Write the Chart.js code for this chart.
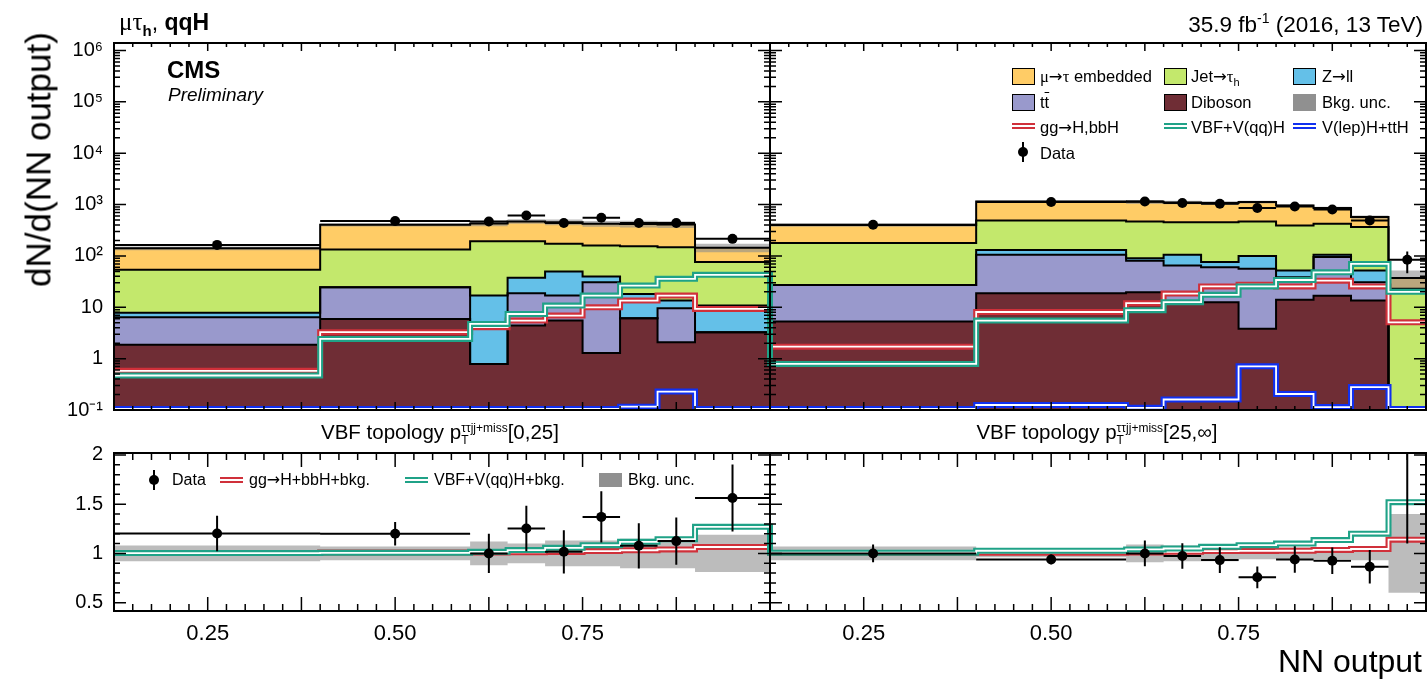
<!DOCTYPE html>
<html>
<head>
<meta charset="utf-8">
<script src="https://cdn.jsdelivr.net/npm/chart.js@4.4.1/dist/chart.umd.min.js"></script>
<style>
  body { margin: 0; width: 1428px; height: 683px; overflow: hidden; position: relative; background: #fff;
         font-family: "Liberation Sans", Arial, sans-serif; color: #000; }
  canvas { position: absolute; left: 0; }
  .t { position: absolute; white-space: nowrap; line-height: 1; }
  .g { font-family: "Liberation Serif", "DejaVu Serif", serif; }
  .ar { font-family: "DejaVu Sans", sans-serif; }
  .box { position: absolute; width: 23px; height: 17px; border: 1.5px solid #000; box-sizing: border-box; }
  .dl { position: absolute; width: 23px; height: 6px; }
  .dl::after { content: ''; position: absolute; left: 0; right: 0; top: 2px; height: 2px; background: #fff; }
  .dot { position: absolute; width: 10px; height: 10px; border-radius: 50%; background: #000; }
  .bar { position: absolute; width: 2px; background: #000; }
  .ss { display: inline-block; vertical-align: -5px; font-size: 12px; line-height: 12px; text-align: left; }
  .ss span { display: block; }
</style>
</head>
<body>
<canvas id="upper" width="1428" height="425" style="top:0"></canvas>
<canvas id="ratio" width="1428" height="243" style="top:440px"></canvas>

<div class="t" style="left:119px;top:9px;font-size:23px"><span class="g" style="font-size:25px">&mu;&tau;</span><sub style="font-size:15px;font-weight:bold">h</sub>, <b>qqH</b></div>
<div class="t" style="right:5px;top:11px;font-size:22.5px">35.9 fb<sup style="font-size:14px">-1</sup> (2016, 13 TeV)</div>
<div class="t" style="left:167px;top:58px;font-size:24px;font-weight:bold">CMS</div>
<div class="t" style="left:168px;top:85px;font-size:19px;font-style:italic">Preliminary</div>

<div class="t" style="left:-112px;top:142px;width:300px;text-align:center;font-size:35px;transform:rotate(-90deg)">dN/d(NN output)</div>
<div class="t" style="right:6px;top:645px;font-size:32px">NN output</div>

<div class="t" style="left:240px;top:422px;width:400px;text-align:center;font-size:20.5px">VBF topology p<span class="ss"><span>&tau;&tau;jj+miss</span><span>T</span></span>[0,25]</div>
<div class="t" style="left:897px;top:422px;width:400px;text-align:center;font-size:20.5px">VBF topology p<span class="ss"><span>&tau;&tau;jj+miss</span><span>T</span></span>[25,&infin;]</div>

<!-- legend, upper panel -->
<div class="box" style="left:1012px;top:68px;background:#ffcc66"></div>
<div class="t" style="left:1040px;top:68px;font-size:16.5px"><span class="g">&mu;</span><span class="ar">&rarr;</span><span class="g">&tau;</span> embedded</div>
<div class="box" style="left:1164px;top:68px;background:#c3e86c"></div>
<div class="t" style="left:1191px;top:68px;font-size:16.5px">Jet<span class="ar">&rarr;</span><span class="g">&tau;</span><sub style="font-size:11px">h</sub></div>
<div class="box" style="left:1293px;top:68px;background:#64c0e8"></div>
<div class="t" style="left:1322px;top:68px;font-size:16.5px">Z<span class="ar">&rarr;</span>ll</div>

<div class="box" style="left:1012px;top:94px;background:#9999cc"></div>
<div class="t" style="left:1040px;top:94px;font-size:16.5px">t<span style="text-decoration:overline">t</span></div>
<div class="box" style="left:1164px;top:94px;background:#6f2d35"></div>
<div class="t" style="left:1191px;top:94px;font-size:16.5px">Diboson</div>
<div class="box" style="left:1293px;top:94px;background:#909090;border:none"></div>
<div class="t" style="left:1322px;top:94px;font-size:16.5px">Bkg. unc.</div>

<div class="dl" style="left:1012px;top:123px;background:#d0303a"></div>
<div class="t" style="left:1040px;top:119px;font-size:16.5px">gg<span class="ar">&rarr;</span>H,bbH</div>
<div class="dl" style="left:1164px;top:123px;background:#1fa287"></div>
<div class="t" style="left:1191px;top:119px;font-size:16.5px">VBF+V(qq)H</div>
<div class="dl" style="left:1293px;top:123px;background:#1030f0"></div>
<div class="t" style="left:1322px;top:119px;font-size:16.5px">V(lep)H+ttH</div>

<div class="dot" style="left:1018px;top:147px"></div>
<div class="bar" style="left:1022px;top:142px;height:20px"></div>
<div class="t" style="left:1040px;top:145px;font-size:16.5px">Data</div>

<!-- legend, ratio panel -->
<div class="dot" style="left:149px;top:475px"></div>
<div class="bar" style="left:153px;top:470px;height:20px"></div>
<div class="t" style="left:172px;top:472px;font-size:16px">Data</div>
<div class="dl" style="left:220px;top:477px;background:#d0303a"></div>
<div class="t" style="left:249px;top:472px;font-size:16px">gg<span class="ar">&rarr;</span>H+bbH+bkg.</div>
<div class="dl" style="left:405px;top:477px;background:#1fa287"></div>
<div class="t" style="left:434px;top:472px;font-size:16px">VBF+V(qq)H+bkg.</div>
<div class="box" style="left:599px;top:473px;height:14px;background:#909090;border:none"></div>
<div class="t" style="left:628px;top:472px;font-size:16px">Bkg. unc.</div>

<script>
// NN output bin edges of the two VBF categories (pT^{ttjj+miss} [0,25] and [25,inf])
const edgesLow = [0.125, 0.4, 0.6, 0.65, 0.7, 0.75, 0.8, 0.85, 0.9, 1.0];
const edgesHigh = [0.125, 0.4, 0.6, 0.65, 0.7, 0.75, 0.8, 0.85, 0.9, 0.95, 1.0];
const panelShift = 0.875; // second category is unrolled right after the first

// stacked backgrounds: top edge of each layer, dN/d(NN output)  (9 bins + 10 bins)
const dibosonTop  = [1.87, 5.9, 0.79, 4.4, 5.5, 1.29, 6.1, 2.09, 3.27,   5.27, 18.8, 19.7, 12, 12.6, 3.8, 14, 16.7, 13.5, 0.05];
const ttTop       = [6.4, 24.6, 0.79, 18.8, 16.9, 30.8, 6.1, 9.6, 3.27,   27.3, 105, 81, 65, 60, 56, 38.6, 95, 30.8, 0.05];
const zllTop      = [7.8, 24.6, 16.9, 37.4, 49.6, 39.6, 18.2, 13.5, 10.8,  27.3, 131, 90, 105, 76, 100, 52, 105, 52, 0.05];
const jetFakeTop  = [53.6, 133, 194, 194, 172, 160, 155, 148, 76,    178, 490, 469, 455, 455, 469, 392, 423, 366, 22.9];
const embeddedTop = [141, 404, 430, 470, 455, 423, 420, 410, 145,    400, 1150, 1130, 1100, 1070, 1120, 960, 855, 570, 37];
const bkgRelUnc   = [0.08, 0.07, 0.12, 0.10, 0.13, 0.13, 0.15, 0.15, 0.19,  0.07, 0.04, 0.09, 0.08, 0.08, 0.06, 0.06, 0.06, 0.07, 0.40];

// signals (not stacked)
const ggHYield   = [0.58, 3.27, 4.1, 5.5, 6.9, 10, 13.5, 16.9, 9.3,   1.71, 8.1, 12, 18.5, 25.5, 27.5, 25.5, 33, 25.5, 5.1];
const qqHYield   = [0.47, 2.42, 4.75, 7.4, 10.8, 16.9, 26.5, 35.8, 42.8,  0.79, 5.5, 8.8, 12.6, 17.5, 25.5, 34, 48, 70, 20];
const otherHYield = [0.105, 0.105, 0.105, 0.105, 0.105, 0.105, 0.116, 0.228, 0.105,  0.105, 0.125, 0.11, 0.16, 0.16, 0.71, 0.205, 0.114, 0.28, 0.105];

// observed
const dataY   = [164, 477, 468, 614, 436, 553, 436, 436, 215,   404, 1119, 1148, 1070, 1037, 855, 918, 803, 490, 84];
const dataErr = [24, 34, 68, 80, 67, 75, 67, 67, 33,   27, 53, 107, 105, 103, 93, 96, 90, 70, 38];

// ratio panel
const ratioData    = [1.203, 1.2, 1.0, 1.253, 1.016, 1.371, 1.077, 1.125, 1.563,   1.0, 0.939, 1.0, 0.973, 0.932, 0.757, 0.939, 0.925, 0.865, 2.3];
const ratioDataErr = [0.18, 0.12, 0.2, 0.23, 0.22, 0.26, 0.23, 0.24, 0.34,   0.09, 0.05, 0.13, 0.13, 0.13, 0.11, 0.135, 0.135, 0.17, 1.2];
const ratioGGH = [1.004, 1.008, 1.01, 1.012, 1.015, 1.024, 1.032, 1.04, 1.065,   1.004, 1.007, 1.01, 1.017, 1.024, 1.025, 1.027, 1.035, 1.045, 1.14];
const ratioQQH = [1.003, 1.006, 1.016, 1.034, 1.057, 1.084, 1.118, 1.145, 1.27,   1.007, 1.027, 1.04, 1.05, 1.067, 1.084, 1.1, 1.135, 1.2, 1.52];

// axis labels
const yTickVals = [0.1, 1, 10, 100, 1000, 1e4, 1e5, 1e6];
const yTickText = ['10\u207B\u00B9', '1', '10', '10\u00B2', '10\u00B3', '10\u2074', '10\u2075', '10\u2076'];
const rTickVals = [0.5, 1, 1.5, 2];
const rTickText = ['0.5', '1', '1.5', '2'];
const xTickVals = [0.25, 0.5, 0.75, 0.25 + panelShift, 0.5 + panelShift, 0.75 + panelShift];
const xTickText = ['0.25', '0.50', '0.75', '0.25', '0.50', '0.75'];

const COL = { emb: '#ffcc66', jet: '#c3e86c', zll: '#64c0e8', tt: '#9999cc', dib: '#6f2d35',
              ggh: '#d0303a', qqh: '#1fa287', oth: '#1030f0', unc: 'rgba(140,140,140,0.6)' };

// unrolled bin boundaries
const binLo = [], binHi = [];
edgesLow.slice(0, -1).forEach((e, i) => { binLo.push(e); binHi.push(edgesLow[i + 1]); });
edgesHigh.slice(0, -1).forEach((e, i) => { binLo.push(e + panelShift); binHi.push(edgesHigh[i + 1] + panelShift); });
const binMid = binLo.map((lo, i) => (lo + binHi[i]) / 2);

function hist(vals) {
  const pts = vals.map((v, i) => ({ x: binLo[i], y: v }));
  pts.push({ x: binHi[binHi.length - 1], y: vals[vals.length - 1] });
  return pts;
}
function step(vals, color, width, order, extra) {
  return Object.assign({ data: hist(vals), stepped: true, borderColor: color, borderWidth: width,
    pointRadius: 0, fill: false, order, clip: 0 }, extra || {});
}
function dataSet(ys, errs, order) {
  return { data: ys.map((y, i) => ({ x: binMid[i], y })), showLine: false, pointRadius: 5,
    pointBackgroundColor: '#000', pointBorderWidth: 0, order, clip: 0,
    errY: errs, xLo: binLo, xHi: binHi };
}

// draws error bars under the markers of a dataset carrying errY
const errorBars = {
  id: 'errorBars',
  beforeDatasetDraw(chart, args) {
    const ds = chart.data.datasets[args.index];
    if (!ds.errY) return;
    const { ctx, chartArea: a, scales: { x, y } } = chart;
    ctx.save();
    ctx.beginPath();
    ctx.rect(a.left, a.top, a.right - a.left, a.bottom - a.top);
    ctx.clip();
    ctx.strokeStyle = '#000';
    ctx.lineWidth = 2;
    ctx.beginPath();
    ds.data.forEach((p, i) => {
      const px = x.getPixelForValue(p.x), py = y.getPixelForValue(p.y);
      ctx.moveTo(x.getPixelForValue(ds.xLo[i]), py);
      ctx.lineTo(x.getPixelForValue(ds.xHi[i]), py);
      ctx.moveTo(px, y.getPixelForValue(Math.max(p.y - ds.errY[i], 1e-3)));
      ctx.lineTo(px, y.getPixelForValue(p.y + ds.errY[i]));
    });
    ctx.stroke();
    ctx.restore();
  }
};

// ROOT style frame: box, category separator and inward tick marks
const frameTicks = {
  id: 'frameTicks',
  afterDatasetsDraw(chart, args, o) {
    const { ctx, chartArea: a, scales: { x, y } } = chart;
    const sep = x.getPixelForValue(1.0);
    ctx.save();
    ctx.strokeStyle = '#000';
    ctx.lineWidth = 1.5;
    ctx.beginPath();
    for (let k = 0; k <= 70; k++) {
      const px = x.getPixelForValue(0.125 + k * 0.025);
      const len = k % 5 === 0 ? o.xMajor : o.xMinor;
      ctx.moveTo(px, a.bottom); ctx.lineTo(px, a.bottom - len);
      ctx.moveTo(px, a.top); ctx.lineTo(px, a.top + len);
    }
    o.yTicks.forEach(([v, major]) => {
      const py = y.getPixelForValue(v);
      if (py < a.top - 0.5 || py > a.bottom + 0.5) return;
      const len = major ? o.yMajor : o.yMinor;
      ctx.moveTo(a.left, py); ctx.lineTo(a.left + len, py);
      ctx.moveTo(a.right, py); ctx.lineTo(a.right - len, py);
      ctx.moveTo(sep - len, py); ctx.lineTo(sep + len, py);
    });
    ctx.stroke();
    ctx.lineWidth = 2;
    ctx.strokeRect(a.left, a.top, a.right - a.left, a.bottom - a.top);
    ctx.beginPath();
    ctx.moveTo(sep, a.top); ctx.lineTo(sep, a.bottom);
    ctx.stroke();
    ctx.restore();
  }
};

// move the plot area to fixed canvas pixels
function pinArea(chart, target) {
  for (let pass = 0; pass < 3; pass++) {
    const pad = chart.config.options.layout.padding;
    const a = chart.chartArea;
    pad.top = Math.max(0, pad.top + target.top - a.top);
    pad.bottom = Math.max(0, pad.bottom + a.bottom - target.bottom);
    pad.right = Math.max(0, pad.right + a.right - target.right);
    chart.update();
  }
}

const logTicks = [];
for (let e = -1; e <= 6; e++) {
  for (let m = 1; m <= 9; m++) logTicks.push([m * Math.pow(10, e), m === 1]);
}
const ratioTicks = [];
for (let k = 4; k <= 20; k++) ratioTicks.push([k / 10, k % 5 === 0]);

const tickFont = { family: '"Liberation Sans", Arial, sans-serif', size: 20 };
// label gap comes from an invisible tick length so that it does not pad the plot area
const yGrid = { display: false, drawTicks: true, tickLength: 11 };
const bkgTotal = embeddedTop;

// upper panel
const upperSets = [
  step(dibosonTop, '#000', 2, 100, { fill: 'start', backgroundColor: COL.dib }),
  step(ttTop, '#000', 2, 99, { fill: 0, backgroundColor: COL.tt }),
  step(zllTop, '#000', 2, 98, { fill: 1, backgroundColor: COL.zll }),
  step(jetFakeTop, '#000', 2, 97, { fill: 2, backgroundColor: COL.jet }),
  step(embeddedTop, '#000', 2, 96, { fill: 3, backgroundColor: COL.emb }),
  step(bkgTotal.map((v, i) => v * (1 - bkgRelUnc[i])), 'rgba(0,0,0,0)', 0, 95),
  step(bkgTotal.map((v, i) => v * (1 + bkgRelUnc[i])), 'rgba(0,0,0,0)', 0, 94, { fill: 5, backgroundColor: COL.unc }),
  step(ggHYield, COL.ggh, 6, 50),
  step(ggHYield, '#fff', 1.8, 49),
  step(qqHYield, COL.qqh, 6, 48),
  step(qqHYield, '#fff', 1.8, 47),
  step(otherHYield, COL.oth, 6, 46),
  step(otherHYield, '#fff', 1.8, 45),
  dataSet(dataY, dataErr, 0)
];

const upperChart = new Chart(document.getElementById('upper'), {
  type: 'line',
  data: { datasets: upperSets },
  options: {
    responsive: false, animation: false, events: [],
    layout: { autoPadding: false, padding: { top: 43, right: 2, bottom: 15, left: 0 } },
    scales: {
      x: { type: 'linear', min: 0.125, max: 1.875, display: false },
      y: {
        type: 'logarithmic', min: 0.1, max: 1.4e6,
        afterFit: s => { s.width = 114; },
        afterBuildTicks: s => { s.ticks = yTickVals.map(v => ({ value: v })); },
        grid: yGrid, border: { display: false },
        ticks: { callback: v => yTickText[yTickVals.indexOf(v)], font: tickFont, color: '#000', padding: 0, autoSkip: false }
      }
    },
    plugins: {
      legend: { display: false }, tooltip: { enabled: false },
      filler: { drawTime: 'beforeDatasetsDraw', propagate: false },
      frameTicks: { xMajor: 8, xMinor: 4, yMajor: 12, yMinor: 6, yTicks: logTicks }
    }
  },
  plugins: [errorBars, frameTicks]
});
pinArea(upperChart, { top: 43, bottom: 410, right: 1426 });

// ratio panel
const ratioSets = [
  step(bkgRelUnc.map(u => 1 - u), 'rgba(0,0,0,0)', 0, 95),
  step(bkgRelUnc.map(u => 1 + u), 'rgba(0,0,0,0)', 0, 94, { fill: 0, backgroundColor: 'rgba(165,165,165,0.75)' }),
  step(ratioGGH, COL.ggh, 6, 50),
  step(ratioGGH, '#fff', 1.8, 49),
  step(ratioQQH, COL.qqh, 6, 48),
  step(ratioQQH, '#fff', 1.8, 47),
  dataSet(ratioData, ratioDataErr, 0)
];

const ratioChart = new Chart(document.getElementById('ratio'), {
  type: 'line',
  data: { datasets: ratioSets },
  options: {
    responsive: false, animation: false, events: [],
    layout: { autoPadding: false, padding: { top: 13, right: 2, bottom: 0, left: 0 } },
    scales: {
      x: {
        type: 'linear', min: 0.125, max: 1.875,
        afterFit: s => { s.height = 72; },
        afterBuildTicks: s => { s.ticks = xTickVals.map(v => ({ value: v })); },
        grid: { display: false, drawTicks: false }, border: { display: false },
        ticks: { callback: (v, i) => xTickText[i], font: { family: tickFont.family, size: 22 }, color: '#000',
                 padding: 10, maxRotation: 0, autoSkip: false }
      },
      y: {
        type: 'linear', min: 0.415, max: 2.02,
        afterFit: s => { s.width = 114; },
        afterBuildTicks: s => { s.ticks = rTickVals.map(v => ({ value: v })); },
        grid: yGrid, border: { display: false },
        ticks: { callback: (v, i) => rTickText[i], font: tickFont, color: '#000', padding: 0, autoSkip: false }
      }
    },
    plugins: {
      legend: { display: false }, tooltip: { enabled: false },
      filler: { drawTime: 'beforeDatasetsDraw', propagate: false },
      frameTicks: { xMajor: 14, xMinor: 7, yMajor: 12, yMinor: 6, yTicks: ratioTicks }
    }
  },
  plugins: [errorBars, frameTicks]
});
pinArea(ratioChart, { top: 13, bottom: 171, right: 1426 });
</script>
</body>
</html>
